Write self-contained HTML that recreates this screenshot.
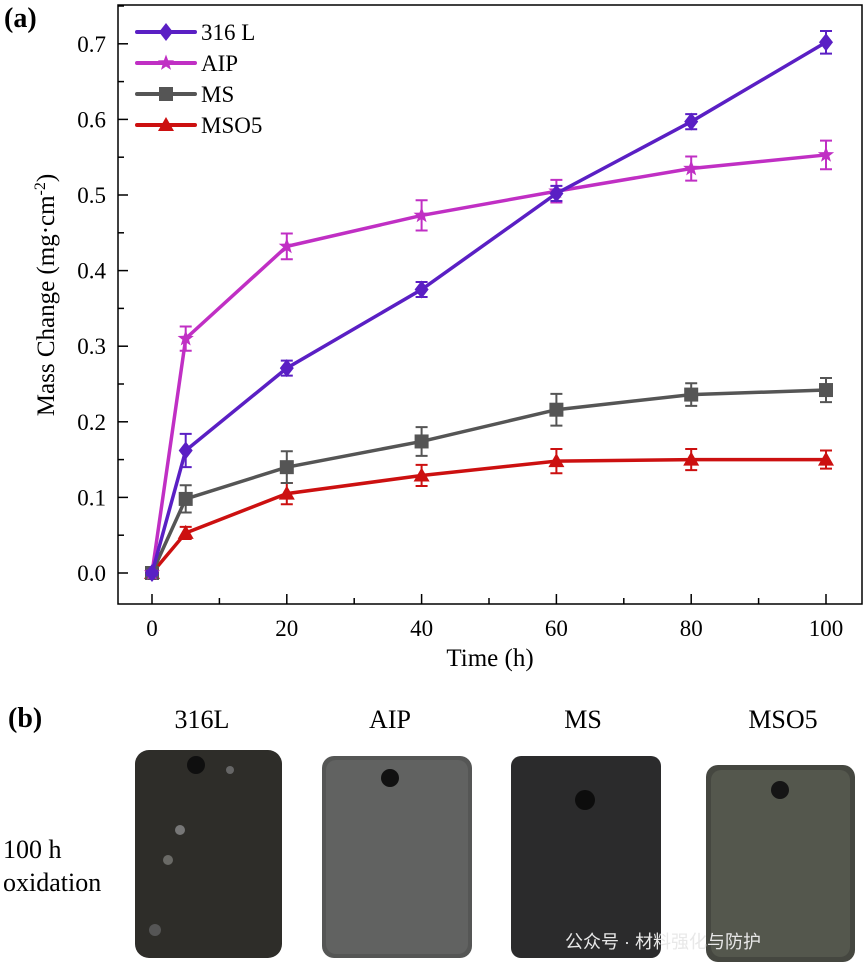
<!DOCTYPE html>
<html><head><meta charset="utf-8"><style>
body{margin:0;background:#fff;width:865px;height:974px;overflow:hidden}
svg{position:absolute;left:0;top:0;font-family:"Liberation Serif",serif}
</style></head><body>
<svg width="865" height="974" font-family="Liberation Serif, serif">
<text x="4" y="27" font-size="28" font-weight="bold">(a)</text>
<rect x="118" y="5" width="744" height="599" fill="none" stroke="#000" stroke-width="1.5"/>
<g id="ticks"></g>
<g id="series"></g>
<text x="490" y="666" font-size="25" text-anchor="middle">Time (h)</text>
<text transform="translate(54,295) rotate(-90)" font-size="25" text-anchor="middle">Mass Change (mg·cm<tspan dy="-9" font-size="16">-2</tspan><tspan dy="9">)</tspan></text>
<g id="legend"></g>
<text x="8" y="727" font-size="28" font-weight="bold">(b)</text>
<g font-size="26" text-anchor="middle">
<text x="202" y="728">316L</text>
<text x="390" y="728">AIP</text>
<text x="583" y="728">MS</text>
<text x="783" y="728">MSO5</text>
</g>
<text x="3" y="858" font-size="26">100 h</text>
<text x="3" y="891" font-size="26">oxidation</text>
<g>
<rect x="135" y="750" width="147" height="208" rx="14" fill="#2e2d29"/>
<circle cx="196" cy="765" r="9" fill="#0f0f0f"/>
<circle cx="180" cy="830" r="5" fill="#777"/><circle cx="168" cy="860" r="5" fill="#6a6a66"/><circle cx="230" cy="770" r="4" fill="#666"/><circle cx="155" cy="930" r="6" fill="#555"/>
</g>
<g>
<rect x="322" y="756" width="150" height="202" rx="12" fill="#555655"/>
<rect x="326" y="760" width="142" height="194" rx="10" fill="#616261"/>
<circle cx="390" cy="778" r="9" fill="#111"/>
</g>
<g>
<rect x="511" y="756" width="150" height="202" rx="10" fill="#2b2b2c"/>
<circle cx="585" cy="800" r="10" fill="#0d0d0d"/>
</g>
<g>
<rect x="706" y="765" width="149" height="197" rx="12" fill="#454740"/>
<rect x="711" y="770" width="139" height="187" rx="10" fill="#54574d"/>
<circle cx="780" cy="790" r="9" fill="#151515"/>
</g>
<text x="565" y="948" font-family="'Liberation Sans','Noto Sans CJK SC',sans-serif" font-size="18" fill="#e8e8e8">公众号 · 材料强化与防护</text>
</svg>
<script>
const xs=[0,5,20,40,60,80,100];
const s316=[0,0.162,0.271,0.375,0.502,0.597,0.702];
const e316=[0.003,0.022,0.01,0.01,0.01,0.01,0.015];
const sAIP=[0,0.31,0.432,0.473,0.505,0.535,0.553];
const eAIP=[0.003,0.016,0.017,0.02,0.015,0.016,0.019];
const sMS=[0,0.098,0.14,0.174,0.216,0.236,0.242];
const eMS=[0.003,0.018,0.021,0.019,0.021,0.015,0.016];
const sMSO5=[0,0.053,0.105,0.129,0.148,0.150,0.150];
const eMSO5=[0.003,0.008,0.014,0.014,0.016,0.014,0.012];
const xTicks=[0,20,40,60,80,100];
const yTicks=[0.0,0.1,0.2,0.3,0.4,0.5,0.6,0.7];
const names=["316 L","AIP","MS","MSO5"];
const X=v=>152+v*6.74, Y=v=>573-v*756;
const NS="http://www.w3.org/2000/svg";
function mk(t,a,p){const e=document.createElementNS(NS,t);for(const k in a)e.setAttribute(k,a[k]);p.appendChild(e);return e;}
const tk=document.getElementById('ticks');
yTicks.forEach(v=>{const l=mk('line',{x1:118,x2:128,y1:Y(v),y2:Y(v),stroke:'#000','stroke-width':1.5},tk);


const t=mk('text',{x:106,y:Y(v)+8,'font-size':23,'text-anchor':'end'},tk);t.textContent=v.toFixed(1);


const m=mk('line',{x1:118,x2:124,y1:Y(v+0.05),y2:Y(v+0.05),stroke:'#000','stroke-width':1.5},tk);

});
xTicks.forEach(v=>{const l=mk('line',{x1:X(v),x2:X(v),y1:604,y2:594,stroke:'#000','stroke-width':1.5},tk);


const t=mk('text',{x:X(v),y:636,'font-size':23,'text-anchor':'middle'},tk);t.textContent=v;


if(v<100){const m=mk('line',{x1:X(v+10),x2:X(v+10),y1:604,y2:598,stroke:'#000','stroke-width':1.5},tk);

}});
function marker(kind,x,y,c,g){
 if(kind==0)return mk('path',{d:`M${x} ${y-9}L${x+7} ${y}L${x} ${y+9}L${x-7} ${y}Z`,fill:c},g);
 if(kind==1){let d='';for(let i=0;i<10;i++){const r=i%2?3.5:8.5,a=-Math.PI/2+i*Math.PI/5;d+=(i?'L':'M')+(x+r*Math.cos(a)).toFixed(1)+' '+(y+r*Math.sin(a)).toFixed(1);}return mk('path',{d:d+'Z',fill:c},g);}
 if(kind==2)return mk('rect',{x:x-7,y:y-7,width:14,height:14,fill:c},g);
 return mk('path',{d:`M${x} ${y-8}L${x+8} ${y+6}L${x-8} ${y+6}Z`,fill:c},g);
}
const sets=[[s316,e316,'#5a1fc4',0],[sAIP,eAIP,'#c02fc4',1],[sMS,eMS,'#555555',2],[sMSO5,eMSO5,'#cc1010',3]];
const sg=document.getElementById('series');
[3,2,1,0].forEach(i=>{const [d,e,c,k]=sets[i];
 const g=mk('g',{},sg);
 
 
 const p=mk('polyline',{points:xs.map((x,j)=>X(x)+','+Y(d[j])).join(' '),fill:'none',stroke:c,'stroke-width':3.5},g);
 
 
 xs.forEach((x,j)=>{const cx=X(x),t=Y(d[j]+e[j]),b=Y(d[j]-e[j]);
  mk('path',{d:`M${cx} ${t}V${b}M${cx-6} ${t}H${cx+6}M${cx-6} ${b}H${cx+6}`,stroke:c,'stroke-width':2,fill:'none'},g);
  const m=marker(k,cx,Y(d[j]),c,g);
  
  });
});
const lg=document.getElementById('legend');
names.forEach((n,i)=>{const y=32+i*31;const c=sets[i][2];
 const g=mk('g',{},lg);
 
 
 mk('line',{x1:137,x2:195,y1:y,y2:y,stroke:c,'stroke-width':4,'stroke-linecap':'round'},g);
 marker(sets[i][3],166,y,c,g);
 const t=mk('text',{x:201,y:y+8,'font-size':23},g);t.textContent=n;});
</script>
</body></html>
